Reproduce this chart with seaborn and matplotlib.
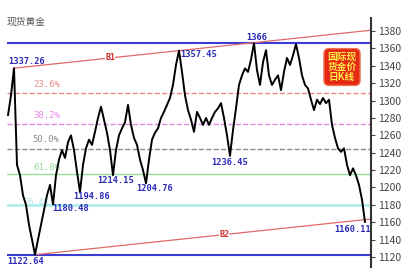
import matplotlib
matplotlib.use("Agg")

import matplotlib.pyplot as plt
import pandas as pd
import seaborn as sns

# daily closes of spot gold (one value per trading day)
closes = [
    1283, 1306, 1337.26, 1226, 1214, 1191, 1180, 1157, 1140, 1122.64,
    1140, 1157, 1174, 1191, 1203, 1180.48, 1214, 1232, 1243, 1234,
    1252, 1260, 1243, 1218, 1194.86, 1226, 1245, 1255, 1249, 1264,
    1280, 1293, 1278, 1263, 1243, 1214.15, 1243, 1260, 1268, 1275,
    1295, 1272, 1257, 1249, 1232, 1220, 1204.76, 1232, 1255, 1263,
    1268, 1280, 1287, 1295, 1303, 1318, 1341, 1357.45, 1333, 1306,
    1289, 1278, 1264, 1287, 1280, 1272, 1280, 1272, 1280, 1287,
    1291, 1297, 1280, 1260, 1236.45, 1266, 1291, 1318, 1329, 1337,
    1333, 1347, 1366, 1335, 1318, 1344, 1358, 1329, 1318, 1324,
    1329, 1312, 1333, 1349, 1341, 1352, 1365, 1349, 1329, 1318,
    1314, 1301, 1289, 1301, 1296, 1303, 1297, 1301, 1272, 1257,
    1245, 1241, 1245, 1226, 1214, 1222, 1214, 1203, 1186, 1160.11,
]

# marked turning points: (day, price text)
pivot_days = [2, 57, 82, 24, 35, 46, 74, 15, 9, 119]
pivot_labels = [
    "1337.26", "1357.45", "1366", "1194.86", "1214.15",
    "1204.76", "1236.45", "1180.48", "1122.64", "1160.11",
]

swing_high = 1366
swing_low = 1122.64
fib_ratios = [0.236, 0.382, 0.5, 0.618, 0.764]
fib_labels = ["23.6%", "38.2%", "50.0%", "61.8%", "76.4%"]

y_ticks = list(range(1120, 1381, 20))

sns.set_style("white")
plt.rcParams["font.family"] = ["Noto Sans CJK SC", "DejaVu Sans"]

fig = plt.figure(figsize=(4.07, 2.79), dpi=100)
ax = fig.add_axes([7 / 407, 12 / 279, 364 / 407, 249 / 279])

days = list(range(len(closes)))
last_day = 121

# fibonacci retracement levels
fib_colors = ["#e88a8a", "#e48ae4", "#8c8c8c", "#96dc96", "#a8ecec"]
fib_text_colors = ["#e88a8a", "#e48ae4", "#8c8c8c", "#96dc96", "#b4e6e6"]
fib_styles = ["--", "--", "--", "-", "-"]
fib_widths = [1.0, 1.0, 1.0, 1.0, 1.8]
fib_offsets = [9, 8, 9, 6, 2]
fib_days = [8.3, 8.3, 8.3, 8.3, 5.5]
fib_sizes = [6.5, 6.5, 6.5, 6.5, 5.8]
for ratio, lab, col, tcol, ls, lw, off, fd, fs in zip(
    fib_ratios, fib_labels, fib_colors, fib_text_colors,
    fib_styles, fib_widths, fib_offsets, fib_days, fib_sizes
):
    level = swing_high - ratio * (swing_high - swing_low)
    ax.axhline(level, color=col, linestyle=ls, linewidth=lw, zorder=1)
    ax.annotate(
        lab,
        xy=(fd, level),
        xytext=(0, off),
        textcoords="offset pixels",
        ha="left",
        va="center",
        fontsize=fs,
        family="DejaVu Sans Mono",
        color=tcol,
        zorder=2,
    )

# swing high / low lines
ax.axhline(swing_high, color="#3c3cd2", linewidth=1.5, zorder=2)
ax.axhline(swing_low, color="#3c3cd2", linewidth=1.5, zorder=2)

# channel B1 through the two highs, B2 parallel through the low
d1, d2 = 2, 57
slope = (closes[d2] - closes[d1]) / (d2 - d1)
b1 = pd.DataFrame({
    "day": [d1, last_day],
    "price": [closes[d1], closes[d1] + slope * (last_day - d1)],
})
b2 = pd.DataFrame({
    "day": [9, last_day],
    "price": [closes[9], closes[9] + slope * (last_day - 9)],
})
sns.lineplot(data=b1, x="day", y="price", ax=ax,
             color="#e06a6a", linewidth=0.9, zorder=2)
sns.lineplot(data=b2, x="day", y="price", ax=ax,
             color="#e06a6a", linewidth=0.9, zorder=2)
for name, start, day in [("B1", 2, 34), ("B2", 9, 72)]:
    ax.text(
        day, closes[start] + slope * (day - start), name,
        ha="center", va="center", fontsize=6, fontweight="bold",
        family="DejaVu Sans Mono", color="#d03030",
        bbox=dict(facecolor="white", edgecolor="none", pad=0.3),
        zorder=3,
    )

# price
price = pd.DataFrame({"day": days, "price": closes})
sns.lineplot(data=price, x="day", y="price", ax=ax,
             color="black", linewidth=1.4, zorder=4)

# pivot labels
offsets = [
    (-6, 7, "left"), (1, -4, "left"), (3, 6, "center"),
    (-7, -5, "left"), (3, -5, "center"), (9, -5, "center"),
    (0, -7, "center"), (-1, -4, "left"), (-28, -7, "left"),
    (6, -7, "right"),
]
for day, lab, (dx, dy, ha) in zip(pivot_days, pivot_labels, offsets):
    ax.annotate(
        lab,
        xy=(day, closes[day]),
        xytext=(dx, dy),
        textcoords="offset pixels",
        ha=ha,
        va="center",
        fontsize=6.3,
        fontweight="bold",
        family="DejaVu Sans Mono",
        color="#2b2bb8",
        zorder=5,
    )

ax.set_xlim(-1 / 3, last_day)
ax.set_ylim(1108.5, 1395)
ax.set_xlabel("")
ax.set_ylabel("")
ax.set_xticks([])
ax.set_yticks(y_ticks)
ax.yaxis.tick_right()
ax.tick_params(axis="y", direction="out", length=3, width=0.8,
               labelsize=7.5, colors="#444444", pad=2)
for side in ["top", "left", "bottom"]:
    ax.spines[side].set_visible(False)
ax.spines["right"].set_color("#333333")
ax.spines["right"].set_linewidth(1.5)

fig.text(7 / 407, 1 - 22 / 279, "现货黄金", fontsize=7,
         color="#555555", ha="left", va="center")

fig.text(
    342 / 407, 1 - 67 / 279, "国际现\n货金价\n日K线",
    fontsize=7, fontweight="bold", color="#ffe84a",
    ha="center", va="center", linespacing=1.0,
    bbox=dict(boxstyle="round,pad=0.35,rounding_size=0.5",
              facecolor="#e42a12", edgecolor="#f07050"),
)

fig.savefig("out.png", dpi=100)
plt.close(fig)
